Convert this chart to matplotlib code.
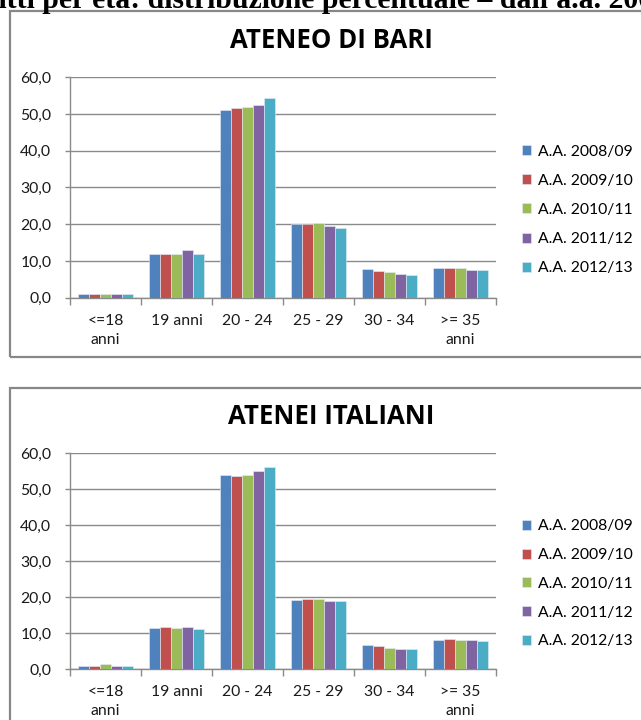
import matplotlib
matplotlib.use("Agg")
import matplotlib.pyplot as plt
from matplotlib.patches import FancyBboxPatch
from matplotlib.ticker import FuncFormatter, FixedLocator, NullFormatter
import numpy as np

# ---------------- data ----------------
categories = ["<=18\nanni", "19 anni", "20 - 24", "25 - 29", "30 - 34", ">= 35\nanni"]
series_labels = ["A.A. 2008/09", "A.A. 2009/10", "A.A. 2010/11", "A.A. 2011/12", "A.A. 2012/13"]

bari_0809 = [0.9, 11.8, 51.1, 20.0, 7.9, 8.1]
bari_0910 = [0.9, 11.8, 51.7, 20.0, 7.4, 8.1]
bari_1011 = [0.9, 11.8, 51.9, 20.2, 7.0, 8.1]
bari_1112 = [0.9, 12.9, 52.4, 19.6, 6.4, 7.5]
bari_1213 = [0.9, 11.8, 54.4, 19.0, 6.3, 7.5]

ita_0809 = [0.9, 11.3, 54.1, 19.2, 6.7, 8.2]
ita_0910 = [0.9, 11.6, 53.8, 19.5, 6.4, 8.3]
ita_1011 = [1.4, 11.3, 54.1, 19.5, 5.8, 8.2]
ita_1112 = [0.9, 11.6, 55.1, 19.0, 5.7, 8.2]
ita_1213 = [0.9, 11.1, 56.2, 19.0, 5.5, 7.8]

y_ticks = [0, 10, 20, 30, 40, 50, 60]
titles = ["ATENEO DI BARI", "ATENEI ITALIANI"]
header = "Iscritti per età: distribuzione percentuale – dall'a.a. 2008-09 al 2012-13"
header_prefix = "Iscritti per età: "

colors = ["#4F81BD", "#C0504D", "#9BBB59", "#8064A2", "#4BACC6"]

W, H = 641, 720
DPI = 100
fig = plt.figure(figsize=(W / DPI, H / DPI), dpi=DPI)
fig.patch.set_facecolor("white")

FONT = "Lato"
TFONT = "Open Sans"
GRID = "#8A8A8A"
FS = 11.3

def fx(px):
    return px / W

def fy(py):
    return (H - py) / H

# panel borders
for (x0, y0, x1, y1) in [(10, 11, 700, 357), (10, 388, 700, 800)]:
    p = FancyBboxPatch((fx(x0), fy(y1)), fx(x1) - fx(x0), fy(y0) - fy(y1),
                       boxstyle="square,pad=0", transform=fig.transFigure,
                       facecolor="none", edgecolor="#878787", linewidth=1.6,
                       zorder=-5)
    fig.patches.append(p)

# header (clipped at top)
renderer = fig.canvas.get_renderer()
hdr_kw = dict(fontsize=21.4, fontweight="bold", family="Liberation Serif")
tmp = fig.text(0, 0, header_prefix, **hdr_kw)
pw = tmp.get_window_extent(renderer).width
tmp.remove()
fig.text(fx(148 - pw), fy(8), header, ha="left", va="baseline", **hdr_kw)

panels = [
    (titles[0], [bari_0809, bari_0910, bari_1011, bari_1112, bari_1213],
     (70, 77.3, 496, 297.7), 48, 153.7, 0.965),
    (titles[1], [ita_0809, ita_0910, ita_1011, ita_1112, ita_1213],
     (70, 453.3, 496, 669), 424, 528.3, 0.94),
]

fmt = FuncFormatter(lambda v, p: f"{v:.1f}".replace(".", ","))
x = np.arange(len(categories))
n = len(series_labels)
bw = 0.155

for title, series, (l, t, r, b), ty, leg_top, lsp in panels:
    ax = fig.add_axes([fx(l), fy(b), fx(r) - fx(l), fy(t) - fy(b)])
    ax.set_facecolor("none")
    for i, (vals, c, lab) in enumerate(zip(series, colors, series_labels)):
        ax.bar(x + (i - (n - 1) / 2) * bw, vals, width=bw, color=c,
               edgecolor="#E6EEF7", linewidth=0.4, label=lab, zorder=3)
    ax.set_xlim(-0.5, len(categories) - 0.5)
    ax.set_ylim(0, 60)
    ax.set_yticks(y_ticks)
    ax.yaxis.set_major_formatter(fmt)
    ax.grid(axis="y", color=GRID, linewidth=1.0, zorder=0)
    ax.set_axisbelow(True)
    for s in ["top", "right"]:
        ax.spines[s].set_visible(False)
    for s in ["left", "bottom"]:
        ax.spines[s].set_color(GRID)
        ax.spines[s].set_linewidth(1.0)
    ax.xaxis.set_major_locator(FixedLocator(np.arange(-0.5, len(categories), 1.0)))
    ax.xaxis.set_major_formatter(NullFormatter())
    ax.xaxis.set_minor_locator(FixedLocator(x))
    ax.set_xticklabels(categories, minor=True)
    ax.tick_params(axis="x", which="major", length=5, width=1.0, color=GRID, direction="out")
    ax.tick_params(axis="x", which="minor", length=0, pad=11.5, labelsize=FS,
                   labelcolor="#1a1a1a")
    ax.tick_params(axis="y", length=3.5, width=1.0, color=GRID, pad=10,
                   labelsize=FS, labelcolor="#1a1a1a")
    for lab in ax.get_xticklabels(minor=True) + ax.get_yticklabels():
        lab.set_family(FONT)
    for lab in ax.get_xticklabels(minor=True):
        lab.set_linespacing(1.45)

    fig.text(fx(331), fy(ty), title, ha="center", va="baseline",
             fontsize=18.5, fontweight="bold", family=TFONT, color="black")

    leg = ax.legend(loc="upper left", bbox_to_anchor=(fx(522), fy(leg_top - 9)),
                    bbox_transform=fig.transFigure, frameon=False,
                    prop={"family": FONT, "size": FS},
                    handlelength=0.6, handleheight=0.6, handletextpad=0.4,
                    labelspacing=lsp, borderpad=0, borderaxespad=0)

fig.savefig("out.png", dpi=DPI, facecolor="white")
